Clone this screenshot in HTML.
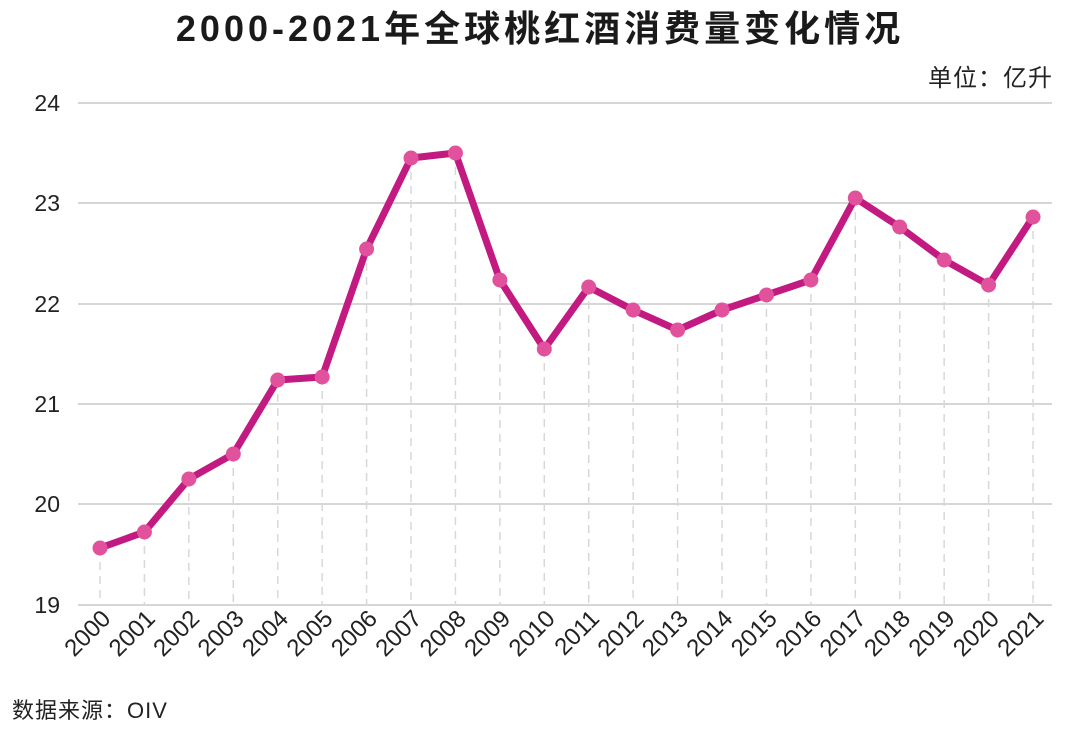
<!DOCTYPE html>
<html><head><meta charset="utf-8"><style>
body{margin:0;background:#fff;}
svg text{font-family:"Liberation Sans","Noto Sans CJK SC",sans-serif;}
</style></head><body>
<svg width="1080" height="731" viewBox="0 0 1080 731" xmlns="http://www.w3.org/2000/svg">
<text x="540" y="41" text-anchor="middle" font-size="36" font-weight="bold" fill="#1a1a1a" letter-spacing="4">2000-2021年全球桃红酒消费量变化情况</text>
<text x="1053" y="86" text-anchor="end" font-size="24" fill="#222" letter-spacing="1">单位：亿升</text>
<g stroke="#d6d6d6" stroke-width="2">
<line x1="78" y1="103" x2="1052" y2="103"/>
<line x1="78" y1="203" x2="1052" y2="203"/>
<line x1="78" y1="304" x2="1052" y2="304"/>
<line x1="78" y1="404" x2="1052" y2="404"/>
<line x1="78" y1="504" x2="1052" y2="504"/>
<line x1="78" y1="605" x2="1052" y2="605"/>
</g>
<g font-size="23" fill="#222" text-anchor="end">
<text x="60" y="111">24</text><text x="60" y="211">23</text><text x="60" y="312">22</text>
<text x="60" y="412">21</text><text x="60" y="512">20</text><text x="60" y="613">19</text>
</g>
<g id="dl" stroke="#d8d8d8" stroke-width="1.5" stroke-dasharray="8,6"></g>
<g id="xl" font-size="24" fill="#222"></g>
<polyline id="ln" fill="none" stroke="#c21a80" stroke-width="7" stroke-linejoin="round"/>
<g id="dots" fill="#e2529c"></g>
<text x="12" y="718" font-size="22" fill="#222" letter-spacing="1">数据来源：OIV</text>
</svg>
<script>
var ys=[548,532,479,454,380,377,249,158,153,280,349,287,310,330,310,295,280,198,227,260,285,217];
var pts=[],dl="",xl="",dots="";
for(var i=0;i<22;i++){var x=100+i*44.43;pts.push(x+","+ys[i]);
dl+='<line x1="'+x+'" y1="'+ys[i]+'" x2="'+x+'" y2="605"/>';
xl+='<text transform="translate('+(x+12)+',620) rotate(-45)" text-anchor="end">'+(2000+i)+'</text>';
dots+='<circle cx="'+x+'" cy="'+ys[i]+'" r="7.5"/>';}
document.getElementById("dl").innerHTML=dl;
document.getElementById("xl").innerHTML=xl;
document.getElementById("dots").innerHTML=dots;
document.getElementById("ln").setAttribute("points",pts.join(" "));
</script>
</body></html>
